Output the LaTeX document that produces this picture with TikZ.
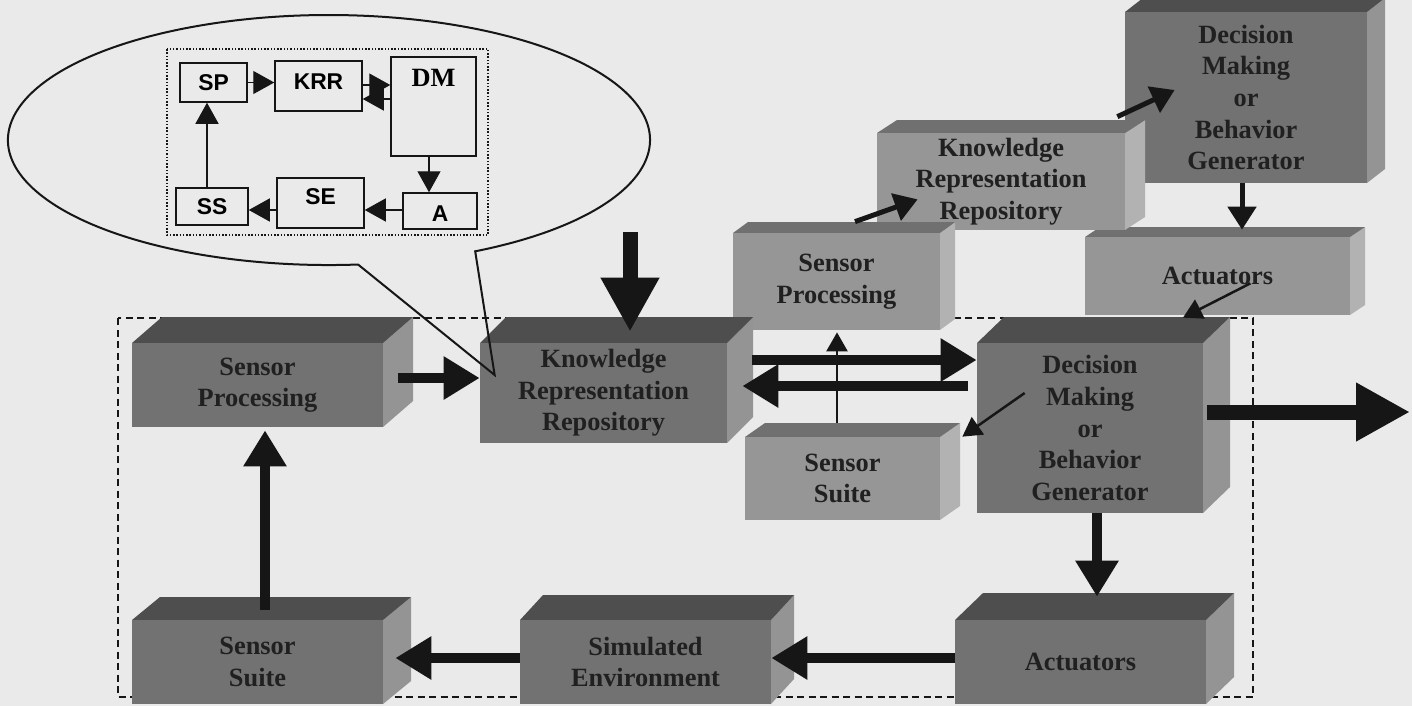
\documentclass[tikz,border=0pt]{standalone}
\usepackage{fontspec}
\setmainfont{Liberation Serif}
\newfontfamily\labelsans{Liberation Sans}
\usetikzlibrary{arrows.meta,calc}

\definecolor{paper}{RGB}{234,234,234}
\definecolor{ink}{RGB}{22,22,22}
\definecolor{inktext}{RGB}{32,32,32}
\definecolor{darkfront}{RGB}{114,114,114}
\definecolor{darktop}{RGB}{78,78,78}
\definecolor{darkside}{RGB}{148,148,148}
\definecolor{litefront}{RGB}{150,150,150}
\definecolor{litetop}{RGB}{112,112,112}
\definecolor{liteside}{RGB}{178,178,178}

% 3D brick: name, tone, x1, y1, x2, y2 (front face, px), depth dx, dy, text
\newcommand{\drawbrick}[9]{%
  \fill[#2side] (#5,#4) -- (#5+#7,#4-#8) -- (#5+#7,#6-#8) -- (#5,#6) -- cycle;
  \fill[#2top] (#3,#4) -- (#3+#7,#4-#8) -- (#5+#7,#4-#8) -- (#5,#4) -- cycle;
  \node[brick, fill=#2front, minimum width=(#5-#3)*0.2mm, minimum height=(#6-#4)*0.2mm]
    (#1) at ({(#3+#5)/2},{(#4+#6)/2}) {#9};
}

\begin{document}
\begin{tikzpicture}[x=0.2mm, y=-0.2mm,
    brick/.style={inner sep=0pt, align=center, text=inktext, font=\bfseries\fontsize{15}{18}\selectfont},
    ibox/.style={draw=ink, line width=0.3mm, fill=paper, inner sep=0pt, font=\labelsans\bfseries\fontsize{13}{15}\selectfont},
    itext/.style={inner sep=0pt, font=\labelsans\bfseries\fontsize{13}{15}\selectfont},
    iarrow/.style={draw=ink, line width=0.25mm, -{Triangle[length=4.2mm, width=4.6mm]}},
    midarrow/.style={draw=ink, line width=2mm, -{Triangle[length=7.2mm, width=8.2mm]}},
    bigarrow/.style={draw=ink, line width=3mm, -{Triangle[length=10.8mm, width=11mm]}},
    smallarrow/.style={draw=ink, line width=1mm, -{Triangle[length=4.6mm, width=5.6mm]}},
    thinarrow/.style={draw=ink, line width=0.5mm, -{Triangle[length=3.8mm, width=4.2mm]}}]

    % Page (background and frame)
    \useasboundingbox (0,0) rectangle (1412,706);
    \fill[paper] (0,0) rectangle (1412,706);
    \clip (0,0) rectangle (1412,706);

    % System boundary (dashed)
    \draw[ink, line width=0.4mm, dash pattern=on 1.4mm off 0.9mm] (118,318) rectangle (1253,697);

    % Nested system (upper right, lighter bricks)
    \drawbrick{udm}{dark}{1125}{12}{1367}{183}{18}{14}{Decision\\Making\\or\\Behavior\\Generator}
    \drawbrick{uact}{lite}{1085}{237}{1350}{315}{15}{10}{Actuators}
    \drawbrick{ukrr}{lite}{877}{133}{1125}{230}{20}{13}{Knowledge\\Representation\\Repository}
    \drawbrick{usp}{lite}{733}{233}{940}{330}{15}{11}{Sensor\\Processing}
    \drawbrick{mss}{lite}{745}{437}{940}{520}{20}{14}{Sensor\\Suite}

    % Main loop bricks
    \drawbrick{sp}{dark}{132}{343}{383}{427}{30}{26}{Sensor\\Processing}
    \drawbrick{krr}{dark}{480}{343}{727}{443}{26}{26}{Knowledge\\Representation\\Repository}
    \drawbrick{dm}{dark}{977}{343}{1203}{513}{27}{26}{Decision\\Making\\or\\Behavior\\Generator}
    \drawbrick{ss}{dark}{132}{620}{383}{704}{28}{23}{Sensor\\Suite}
    \drawbrick{se}{dark}{520}{620}{771}{704}{23}{25}{Simulated\\Environment}
    \drawbrick{act}{dark}{955}{620}{1206}{704}{28}{27}{Actuators}

    % Main loop arrows
    \coordinate (feed) at (630,232);
    \coordinate (exit) at (1410,412);
    \draw[midarrow] ($(sp.east |- 0,378)+(15,0)$) -- (krr.west |- 0,378);
    \draw[bigarrow] (feed) -- ($(feed |- krr.north)+(0,-11)$);
    \draw[midarrow] ($(krr.east |- 0,360)+(25,0)$) -- (dm.west |- 0,360);
    \draw[midarrow] ($(dm.west |- 0,386)+(-9,0)$) -- ($(krr.east |- 0,386)+(15,0)$);
    \draw[bigarrow] ($(dm.east |- exit)+(4,0)$) -- (exit);
    \draw[midarrow] (dm.south -| 1097,0) -- ($(act.north -| 1097,0)+(0,-23)$);
    \draw[midarrow] (act.west |- 0,658) -- (se.east |- 0,658);
    \draw[midarrow] (se.west |- 0,658) -- ($(ss.east |- 0,658)+(12,0)$);
    \draw[midarrow] ($(ss.north -| 265,0)+(0,-10)$) -- ($(sp.south -| 265,0)+(0,3)$);

    % Nested system arrows
    \draw[smallarrow] (udm.south -| 1242,0) -- ($(uact.north -| 1242,0)+(0,-7)$);
    \draw[smallarrow] ($(ukrr.north east)+(-8,-16)$) -- ($(udm.west)+(50,-7.5)$);
    \draw[smallarrow] ($(usp.north)+(18.5,-11)$) -- ($(ukrr.south west)+(41,-31)$);
    \draw[thinarrow] ($(mss.north -| 837,0)+(0,-14)$) -- ($(usp.south -| 837,0)+(0,2)$);
    \draw[thinarrow] ($(uact.south east)+(-100,-32)$) -- ($(dm.north)+(93,-25)$);
    \draw[thinarrow] ($(dm.west)+(48,-35)$) -- ($(mss.north east)+(22,0)$);

    % Callout bubble pointing into the repository
    \coordinate (tip) at ($(krr.west)+(15,-18)$);
    \draw[ink, line width=0.4mm] (475.2,251.3) arc[start angle=-62.9, end angle=275.2, x radius=64.2mm, y radius=25mm] -- (tip) -- cycle;

    % Inner loop (dotted frame and boxes)
    \draw[ink, line width=0.3mm, densely dotted] (167,49) rectangle (488,235);
    \node[ibox, minimum width=13.4mm, minimum height=7.8mm] (isp) at (213.5,82.5) {SP};
    \node[ibox, minimum width=17.4mm, minimum height=10mm] (ikrr) at (318.5,86) {};
    \node[itext] (ikrr-t) at (318.5,82) {KRR};
    \node[ibox, minimum width=17mm, minimum height=19.8mm] (idm) at (433.5,106.5) {};
    \node[itext, font=\bfseries\fontsize{15}{17}\selectfont] (idm-t) at (433.5,78) {DM};
    \node[ibox, minimum width=14.4mm, minimum height=7.4mm] (iss) at (212,206.5) {SS};
    \node[ibox, minimum width=17.4mm, minimum height=10mm] (ise) at (320.5,203) {};
    \node[itext] (ise-t) at (320.5,197) {SE};
    \node[ibox, minimum width=14.8mm, minimum height=7.2mm] (ia) at (440,211) {};
    \node[itext] (ia-t) at (440,214) {A};

    % Inner loop arrows
    \draw[iarrow] (isp.east) -- (ikrr.west |- isp.east);
    \draw[iarrow] (ikrr.east |- 0,85) -- (idm.west |- 0,85);
    \draw[iarrow] (idm.west |- 0,99) -- (ikrr.east |- 0,99);
    \draw[iarrow] (idm.south -| 429,0) -- (ia.north -| 429,0);
    \draw[iarrow] (ia.west |- 0,210) -- (ise.east |- 0,210);
    \draw[iarrow] (ise.west |- 0,210) -- (iss.east |- 0,210);
    \draw[iarrow] (iss.north -| 207,0) -- (isp.south -| 207,0);
\end{tikzpicture}
\end{document}
